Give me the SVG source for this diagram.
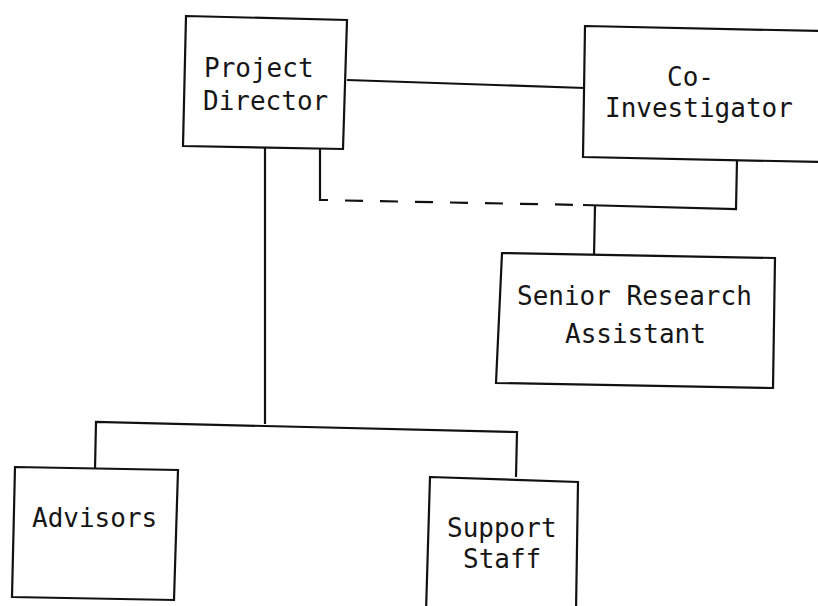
<svg xmlns="http://www.w3.org/2000/svg" width="818" height="606" viewBox="0 0 818 606">
  <style>
    .box { fill: #ffffff; stroke: #111111; stroke-width: 2.2; stroke-linejoin: miter; }
    .line { fill: none; stroke: #111111; stroke-width: 2.2; }
    .dash { fill: none; stroke: #111111; stroke-width: 2.2; stroke-dasharray: 18 17; }
    .label { font-family: "DejaVu Sans Mono", "Liberation Mono", monospace; font-size: 26px; fill: #161616; }
  </style>
  <rect width="818" height="606" fill="#ffffff"/>

  <!-- connectors -->
  <g id="connectors">
    <!-- director to co-investigator -->
    <path class="line" d="M347 80 L585 88"/>
    <!-- dashed supervision link from director -->
    <path class="line" d="M320 148 L320 200 L328 200"/>
    <path class="dash" d="M345 200.5 L583 205"/>
    <!-- co-investigator to senior research assistant -->
    <path class="line" d="M737 160 L736 209 L583 205"/>
    <path class="line" d="M595 206 L594 256"/>
    <!-- director trunk to lower staff -->
    <path class="line" d="M265 148 L265 424"/>
    <path class="line" d="M95 469 L96 422 L517 432 L516 477"/>
  </g>

  <g id="project-director">
    <path class="box" d="M186 16 L347 20 L343 149 L183 146 Z"/>
    <text class="label" x="204" y="77">Project</text>
    <text class="label" x="203" y="110">Director</text>
  </g>

  <g id="co-investigator">
    <path class="box" d="M585 26 L822 31 L822 162 L583 157 Z"/>
    <text class="label" x="667" y="86">Co-</text>
    <text class="label" x="605" y="117">Investigator</text>
  </g>

  <g id="senior-research-assistant">
    <path class="box" d="M502 253 L775 258 L773 388 L496 383 Z"/>
    <text class="label" x="517" y="305">Senior Research</text>
    <text class="label" x="565" y="343">Assistant</text>
  </g>

  <g id="advisors">
    <path class="box" d="M15 467 L178 470 L174 600 L12 597 Z"/>
    <text class="label" x="32" y="527">Advisors</text>
  </g>

  <g id="support-staff">
    <path class="box" d="M430 477 L578 482 L576 612 L426 612 Z"/>
    <text class="label" x="447" y="537">Support</text>
    <text class="label" x="463" y="568">Staff</text>
  </g>
</svg>
